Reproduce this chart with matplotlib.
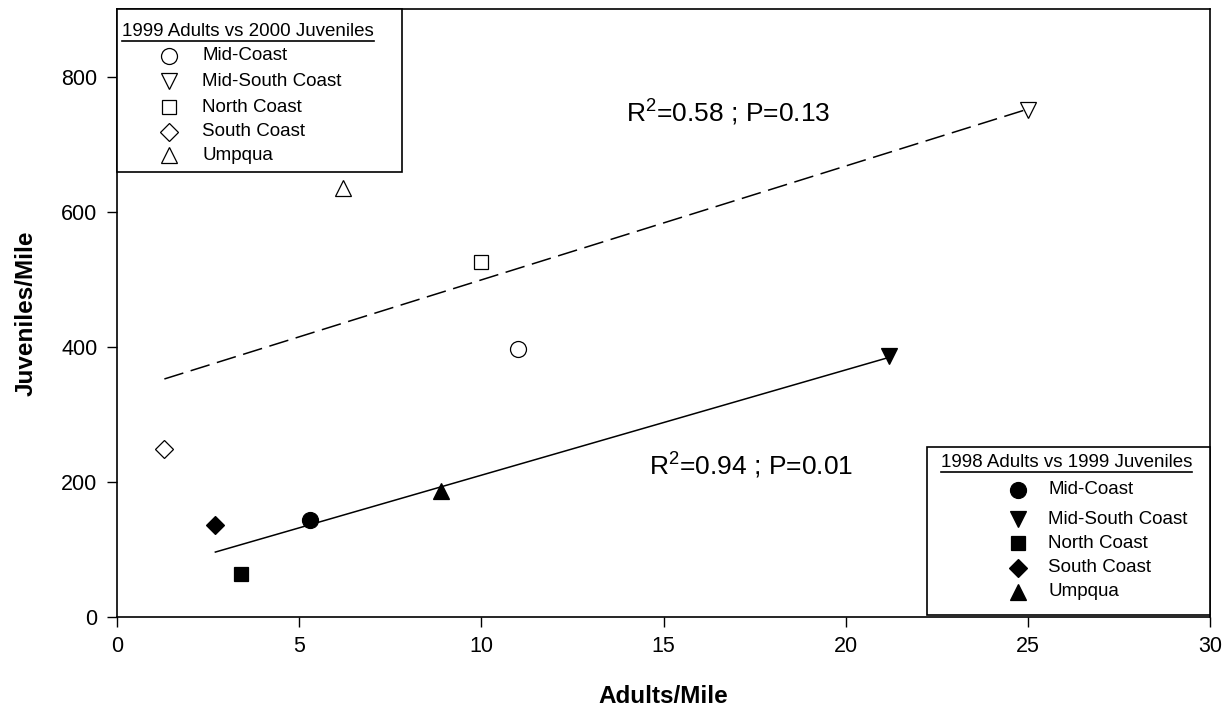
import numpy as np
import matplotlib
matplotlib.use("Agg")
import matplotlib.pyplot as plt
from matplotlib.patches import Rectangle

plt.rcParams['font.family'] = ['Liberation Sans', 'DejaVu Sans']
plt.rcParams['mathtext.fontset'] = 'custom'
plt.rcParams['mathtext.rm'] = 'Liberation Sans'

# ---- data ----
regions = ["Mid-Coast", "Mid-South Coast", "North Coast", "South Coast", "Umpqua"]
markers = ["o", "v", "s", "D", "^"]

adults_1999 = [11.0, 25.0, 10.0, 1.3, 6.2]
juv_2000 = [396, 750, 525, 248, 635]

adults_1998 = [5.3, 21.2, 3.4, 2.7, 8.9]
juv_1999 = [144, 387, 63, 136, 187]

label_open = "R$^{2}$=0.58 ; P=0.13"
label_filled = "R$^{2}$=0.94 ; P=0.01"
legend_open_title = "1999 Adults vs 2000 Juveniles"
legend_filled_title = "1998 Adults vs 1999 Juveniles"

xticks = [0, 5, 10, 15, 20, 25, 30]
yticks = [0, 200, 400, 600, 800]

W, H = 1231, 715
fig = plt.figure(figsize=(W / 100, H / 100), dpi=100)
L, R, T, B = 117, 1210, 9, 617
ax = fig.add_axes([L / W, 1 - B / H, (R - L) / W, (B - T) / H])

def axc(px, py):
    return ((px - L) / (R - L), (B - py) / (B - T))

msz = {"o": 11.5, "v": 12, "s": 10, "D": 9.5, "^": 12}

# regression lines
for xs, ys, ls in [(adults_1999, juv_2000, (0, (13, 5))), (adults_1998, juv_1999, '-')]:
    xs = np.array(xs, float); ys = np.array(ys, float)
    m, c = np.polyfit(xs, ys, 1)
    xx = np.array([xs.min(), xs.max()])
    ax.plot(xx, m * xx + c, color='black', lw=1.1, linestyle=ls, zorder=2)

for i, mk in enumerate(markers):
    ax.plot(adults_1999[i], juv_2000[i], marker=mk, ms=msz[mk], mfc='white',
            mec='black', mew=0.9, linestyle='none', zorder=3)
    ax.plot(adults_1998[i], juv_1999[i], marker=mk, ms=msz[mk], mfc='black',
            mec='black', mew=0.9, linestyle='none', zorder=3)

ax.set_xlim(0, 30)
ax.set_ylim(0, 900)
ax.set_xticks(xticks)
ax.set_yticks(yticks)
ax.tick_params(direction='out', length=7, width=1, labelsize=15.5, pad=7)
for s in ax.spines.values():
    s.set_linewidth(1.2)
ax.set_xlabel("Adults/Mile", fontsize=17.5, fontweight='bold', labelpad=20)
ax.set_ylabel("Juveniles/Mile", fontsize=17.5, fontweight='bold', labelpad=17)

ax.text(*axc(728, 112), label_open, transform=ax.transAxes, fontsize=19,
        ha='center', va='center')
ax.text(*axc(751, 465), label_filled, transform=ax.transAxes, fontsize=19,
        ha='center', va='center')

# ---- manual legends ----
def legend_box(x0, y0, x1, y1, title, tx, ty, mx, lx, ys, filled, title_ha):
    a0 = axc(x0, y1); a1 = axc(x1, y0)
    ax.add_patch(Rectangle(a0, a1[0] - a0[0], a1[1] - a0[1], transform=ax.transAxes,
                           facecolor='white', edgecolor='black', lw=1.2,
                           zorder=5, clip_on=False))
    t = ax.text(*axc(tx, ty), title, transform=ax.transAxes, fontsize=13.5,
                ha=title_ha, va='center', zorder=6)
    for mk, name, yy in zip(markers, regions, ys):
        ax.plot(*axc(mx, yy), transform=ax.transAxes, marker=mk, ms=msz[mk],
                mfc='black' if filled else 'white', mec='black', mew=0.9,
                linestyle='none', zorder=6, clip_on=False)
        ax.text(*axc(lx, yy), name, transform=ax.transAxes, fontsize=13.5,
                ha='left', va='center', zorder=6)
    return t

t1 = legend_box(L, T, 402, 172, legend_open_title, 122, 31, 169, 202,
                [56, 81, 107, 132, 155], False, 'left')
t2 = legend_box(927, 447, R, 615, legend_filled_title, 941, 462, 1018, 1048,
                [490, 519, 543, 568, 592], True, 'left')

fig.canvas.draw()
inv = ax.transAxes.inverted()
for t in (t1, t2):
    bb = t.get_window_extent()
    p0 = inv.transform((bb.x0, bb.y0 - 1))
    p1 = inv.transform((bb.x1, bb.y0 - 1))
    ax.plot([p0[0], p1[0]], [p0[1], p1[1]], transform=ax.transAxes, color='black',
            lw=1.2, zorder=6, clip_on=False)

fig.savefig("out.png", dpi=100)
